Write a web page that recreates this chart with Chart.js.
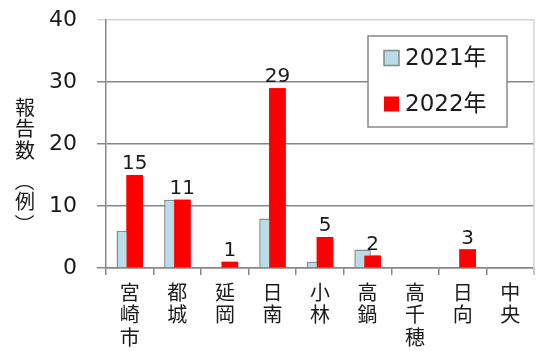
<!DOCTYPE html>
<html lang="ja">
<head>
<meta charset="utf-8">
<script src="https://cdn.jsdelivr.net/npm/chart.js@4/dist/chart.umd.min.js"></script>
<style>
  html, body { margin: 0; padding: 0; background: #fff; }
  #box { width: 538px; height: 351px; }
</style>
</head>
<body>
<div id="box"><canvas id="grafico"></canvas></div>
<script>
const areas = ["宮崎市", "都城", "延岡", "日南", "小林", "高鍋", "高千穂", "日向", "中央"];
const casos2021 = [6, 11, 0, 8, 1, 3, 0, 0, 0];
const casos2022 = [15, 11, 1, 29, 5, 2, 0, 3, 0];
const yTicks = [0, 10, 20, 30, 40];
const legendas = ["2021年", "2022年"];
const tituloY = "報告数（例）";

const fonteNum = "'DejaVu Sans', 'Noto Sans CJK JP'";
const fonteJp = "'Noto Sans CJK JP'";
const corTexto = "#1a1a1a";

// red bars sit on top of the blue ones, with the value written above
const vermelhoPorCima = {
  id: "vermelhoPorCima",
  afterDatasetsDraw(chart) {
    const meta = chart.getDatasetMeta(1);
    meta.controller.draw();
    const ctx = chart.ctx;
    ctx.save();
    ctx.fillStyle = corTexto;
    ctx.font = "20px " + fonteNum;
    ctx.textAlign = "center";
    ctx.textBaseline = "bottom";
    meta.data.forEach((bar, i) => {
      const v = casos2022[i];
      if (v > 0) ctx.fillText(String(v), bar.x, bar.y - 1);
    });
    ctx.restore();
  }
};

// frame, vertical axis title and the boxed legend
const extras = {
  id: "extras",
  afterDraw(chart) {
    const ctx = chart.ctx;
    const a = chart.chartArea;
    ctx.save();

    ctx.strokeStyle = "#d4d4d4";
    ctx.lineWidth = 1.5;
    ctx.beginPath();
    ctx.moveTo(a.right, a.top);
    ctx.lineTo(a.right, a.bottom + 7);
    ctx.stroke();

    // title written top to bottom, brackets turned sideways
    ctx.fillStyle = corTexto;
    ctx.font = "20px " + fonteJp;
    ctx.textAlign = "center";
    ctx.textBaseline = "middle";
    const posY = [107, 128.5, 150, 181, 201, 224];
    tituloY.split("").forEach((ch, i) => {
      if (ch === "（" || ch === "）") {
        ctx.save();
        ctx.translate(25, posY[i]);
        ctx.rotate(Math.PI / 2);
        ctx.fillText(ch, 0, 0);
        ctx.restore();
      } else {
        ctx.fillText(ch, 25, posY[i]);
      }
    });

    const lx = 368, ly = 36, lw = 139, lh = 91;
    ctx.fillStyle = "#fff";
    ctx.fillRect(lx, ly, lw, lh);
    ctx.strokeStyle = "#888";
    ctx.lineWidth = 1.5;
    ctx.strokeRect(lx, ly, lw, lh);

    const ds = chart.data.datasets;
    legendas.forEach((txt, i) => {
      const cy = 58 + i * 46;
      ctx.fillStyle = ds[i].backgroundColor;
      ctx.fillRect(384, cy - 7.5, 15, 15);
      if (i === 0) {
        ctx.strokeStyle = "#888";
        ctx.lineWidth = 1.5;
        ctx.strokeRect(384, cy - 7.5, 15, 15);
      }
      ctx.fillStyle = corTexto;
      ctx.font = "23px " + fonteNum;
      ctx.textAlign = "left";
      ctx.textBaseline = "middle";
      ctx.fillText(txt, 405, cy + 1);
    });

    ctx.restore();
  }
};

const grafico = new Chart(document.getElementById("grafico"), {
  type: "bar",
  data: {
    labels: areas.map(n => n.split("")),
    datasets: [
      {
        label: legendas[0],
        data: casos2021,
        backgroundColor: "#b7dde8",
        borderColor: "#8a8a8a",
        borderWidth: c => (c.raw > 0 ? 1.5 : 0),
        borderSkipped: "bottom",
        categoryPercentage: 0.42,
        barPercentage: 1.65
      },
      {
        label: legendas[1],
        data: casos2022,
        backgroundColor: "#ff0000",
        borderWidth: 0,
        categoryPercentage: 0.42,
        barPercentage: 1.65
      }
    ]
  },
  options: {
    responsive: true,
    maintainAspectRatio: false,
    animation: false,
    layout: { padding: { top: 20, right: 4, left: 0, bottom: 0 } },
    plugins: {
      legend: { display: false },
      tooltip: { enabled: false }
    },
    scales: {
      x: {
        grid: {
          offset: true,
          drawOnChartArea: false,
          drawTicks: true,
          tickLength: 7,
          color: "#888",
          lineWidth: 1.5
        },
        border: { color: "#888", width: 1.5 },
        ticks: {
          color: corTexto,
          font: { family: fonteJp, size: 20, lineHeight: 1.13 },
          maxRotation: 0,
          autoSkip: false,
          padding: 6
        },
        afterFit: s => { s.height = 83; s.paddingLeft = 0; s.paddingRight = 0; }
      },
      y: {
        min: 0,
        max: 40,
        afterBuildTicks: s => { s.ticks = yTicks.map(v => ({ value: v })); },
        grid: {
          color: c => (c.tick && c.tick.value === 40 ? "#d4d4d4" : "#868686"),
          lineWidth: 1.5,
          tickLength: 9
        },
        border: { color: "#888", width: 1.5 },
        ticks: {
          color: corTexto,
          font: { family: fonteNum, size: 22 },
          padding: 20
        },
        afterFit: s => { s.width = 106; s.paddingTop = 0; s.paddingBottom = 0; }
      }
    }
  },
  plugins: [vermelhoPorCima, extras]
});
</script>
</body>
</html>
